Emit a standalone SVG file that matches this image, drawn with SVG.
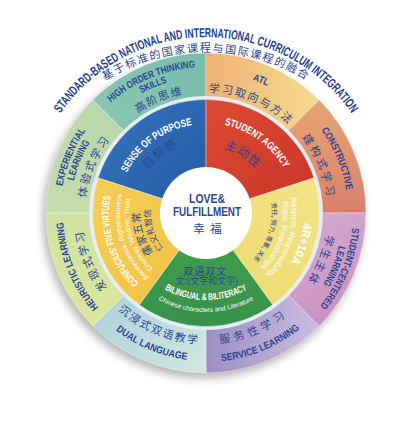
<svg xmlns="http://www.w3.org/2000/svg" width="415" height="426" viewBox="0 0 415 426">
<defs>
<style>
.en{font-family:"Liberation Sans",Arial,sans-serif;font-weight:bold;}
.rg{font-family:"Liberation Sans",Arial,sans-serif;}
.lbl{fill:#2b4694;font-size:10px;}
.zh{font-family:"Noto Sans CJK SC",sans-serif;fill:#2b4694;}
.w{fill:#ffffff;}
.m{text-anchor:middle;}
.sep{stroke:#ffffff;stroke-opacity:0.45;stroke-width:0.8;}
</style>
<filter id="sh" x="-20%" y="-20%" width="140%" height="140%"><feGaussianBlur stdDeviation="5"/></filter>
<linearGradient id="gHO" x1="0" y1="1" x2="1" y2="0"><stop offset="0" stop-color="#93cbb5"/><stop offset="1" stop-color="#78bcaa"/></linearGradient>
<linearGradient id="gATL" x1="0" y1="0" x2="1" y2="0"><stop offset="0" stop-color="#efb172"/><stop offset="1" stop-color="#f5dc8e"/></linearGradient>
<linearGradient id="gCON" x1="0" y1="0" x2="0" y2="1"><stop offset="0" stop-color="#e8a574"/><stop offset="1" stop-color="#d8806b"/></linearGradient>
<linearGradient id="gSC" x1="0" y1="0" x2="1" y2="1"><stop offset="0" stop-color="#dfb8d6"/><stop offset="1" stop-color="#c58cbd"/></linearGradient>
<linearGradient id="gSL" x1="0" y1="0" x2="1" y2="0"><stop offset="0" stop-color="#9a8fc4"/><stop offset="1" stop-color="#cdbde0"/></linearGradient>
<linearGradient id="gDL" x1="0" y1="0" x2="1" y2="1"><stop offset="0" stop-color="#9ec8d8"/><stop offset="1" stop-color="#d2e7de"/></linearGradient>
<linearGradient id="gHE" x1="0" y1="0" x2="0" y2="1"><stop offset="0" stop-color="#d0e2a2"/><stop offset="1" stop-color="#dbe79c"/></linearGradient>
<linearGradient id="gEX" x1="0" y1="1" x2="1" y2="0"><stop offset="0" stop-color="#c6ddab"/><stop offset="1" stop-color="#b3d3ad"/></linearGradient>
<linearGradient id="gB" x1="0" y1="0" x2="1" y2="1"><stop offset="0" stop-color="#3574bd"/><stop offset="1" stop-color="#245ba5"/></linearGradient>
<linearGradient id="gR" x1="0" y1="0" x2="1" y2="1"><stop offset="0" stop-color="#dc4a32"/><stop offset="1" stop-color="#c93528"/></linearGradient>
<linearGradient id="gY1" x1="1" y1="0" x2="0" y2="1"><stop offset="0" stop-color="#f4e488"/><stop offset="1" stop-color="#ecd86c"/></linearGradient>
<linearGradient id="gG" x1="0" y1="0" x2="0" y2="1"><stop offset="0" stop-color="#45a050"/><stop offset="1" stop-color="#37924a"/></linearGradient>
<linearGradient id="gY2" x1="0" y1="0" x2="1" y2="1"><stop offset="0" stop-color="#f5cd55"/><stop offset="1" stop-color="#f0c044"/></linearGradient>
<path id="te" d="M31.7,183.3 A177,177 0 0 1 380.3,183.3"/>
<path id="tz" d="M58.2,120.9 A193,193 0 0 1 353.8,120.9"/>
<path id="cw146" d="M-132.32,-61.70 A146,146 0 0 1 132.32,-61.70"/>
<path id="cw136" d="M-123.26,-57.47 A136,136 0 0 1 123.26,-57.47"/>
<path id="cw121" d="M-109.66,-51.13 A121,121 0 0 1 109.66,-51.13"/>
<path id="cw141" d="M-127.79,-59.59 A141,141 0 0 1 127.79,-59.59"/>
<path id="cw142" d="M-128.69,-60.01 A142,142 0 0 1 128.69,-60.01"/>
<path id="cw122" d="M-110.57,-51.56 A122,122 0 0 1 110.57,-51.56"/>
<path id="cw147" d="M-133.23,-62.12 A147,147 0 0 1 133.23,-62.12"/>
<path id="cw137" d="M-124.16,-57.90 A137,137 0 0 1 124.16,-57.90"/>
<path id="cw143" d="M-129.60,-60.43 A143,143 0 0 1 129.60,-60.43"/>
<path id="cw124" d="M-112.38,-52.40 A124,124 0 0 1 112.38,-52.40"/>
<path id="cw89" d="M-80.66,-37.61 A89,89 0 0 1 80.66,-37.61"/>
<path id="cw72" d="M-65.25,-30.43 A72,72 0 0 1 65.25,-30.43"/>
<path id="cw90" d="M-81.57,-38.03 A90,90 0 0 1 81.57,-38.03"/>
<path id="cw67" d="M-60.72,-28.31 A67,67 0 0 1 60.72,-28.31"/>
<path id="cw98" d="M-88.82,-41.41 A98,98 0 0 1 88.82,-41.41"/>
<path id="cw86" d="M-77.94,-36.34 A86,86 0 0 1 77.94,-36.34"/>
<path id="cw77" d="M-69.79,-32.54 A77,77 0 0 1 69.79,-32.54"/>
<path id="cw97" d="M-87.91,-40.99 A97,97 0 0 1 87.91,-40.99"/>
<path id="cw66" d="M-59.82,-27.89 A66,66 0 0 1 59.82,-27.89"/>
<path id="cw55" d="M-50.30,-23.45 A55.5,55.5 0 0 1 50.30,-23.45"/>
<path id="cc131" d="M-118.73,55.36 A131,131 0 0 0 118.73,55.36"/>
<path id="cc149" d="M-135.04,62.97 A149,149 0 0 0 135.04,62.97"/>
<path id="cc148" d="M-134.13,62.54 A148,148 0 0 0 134.13,62.54"/>
<path id="cc87" d="M-78.85,36.77 A87,87 0 0 0 78.85,36.77"/>
<path id="cc99" d="M-89.72,41.84 A99,99 0 0 0 89.72,41.84"/>
</defs>

<rect width="415" height="426" fill="#ffffff"/>
<circle cx="203" cy="218" r="160" fill="#000" opacity="0.3" filter="url(#sh)"/>

<g id="title">
<text class="en m" font-size="13" fill="#23408e"><textPath href="#te" startOffset="50%" textLength="342" lengthAdjust="spacingAndGlyphs">STANDARD-BASED NATIONAL AND INTERNATIONAL CURRICULUM INTEGRATION</textPath></text>
<text class="zh m" font-size="11" letter-spacing="1.5" fill="#23408e"><textPath href="#tz" startOffset="50%">基于标准的国家课程与国际课程的融合</textPath></text>
</g>

<g id="outer-ring">
<g id="high-order-thinking">
<path class="sep" fill="url(#gHO)" d="M206,213 L92.86,99.86 A160,160 0 0 1 206,53 Z"/>
<g transform="translate(206 213) rotate(-22.5)">
<text class="en lbl m"><textPath href="#cw146" startOffset="50%" textLength="93" lengthAdjust="spacingAndGlyphs">HIGH ORDER THINKING</textPath></text>
<text class="en lbl m"><textPath href="#cw136" startOffset="50%" textLength="28" lengthAdjust="spacingAndGlyphs">SKILLS</textPath></text>
<text class="zh m" font-size="11" letter-spacing="1.5"><textPath href="#cw121" startOffset="50%">高阶思维</textPath></text>
</g>
</g>
<g id="atl">
<path class="sep" fill="url(#gATL)" d="M206,213 L206,53 A160,160 0 0 1 319.14,99.86 Z"/>
<g transform="translate(206 213) rotate(22.5)">
<text class="en lbl m"><textPath href="#cw141" startOffset="50%" textLength="16" lengthAdjust="spacingAndGlyphs">ATL</textPath></text>
<text class="zh m" font-size="11" letter-spacing="1.8"><textPath href="#cw121" startOffset="50%">学习取向与方法</textPath></text>
</g>
</g>
<g id="constructive">
<path class="sep" fill="url(#gCON)" d="M206,213 L319.14,99.86 A160,160 0 0 1 366,213 Z"/>
<g transform="translate(206 213) rotate(67.5)">
<text class="en lbl m"><textPath href="#cw142" startOffset="50%" textLength="66" lengthAdjust="spacingAndGlyphs">CONSTRUCTIVE</textPath></text>
<text class="zh m" font-size="11" letter-spacing="2.5"><textPath href="#cw122" startOffset="50%">建构式学习</textPath></text>
</g>
</g>
<g id="student-centered">
<path class="sep" fill="url(#gSC)" d="M206,213 L366,213 A160,160 0 0 1 319.14,326.14 Z"/>
<g transform="translate(206 213) rotate(112.5)">
<text class="en lbl m"><textPath href="#cw147" startOffset="50%" textLength="86" lengthAdjust="spacingAndGlyphs">STUDENT-CENTERED</textPath></text>
<text class="en lbl m"><textPath href="#cw137" startOffset="50%" textLength="42" lengthAdjust="spacingAndGlyphs">LEARNING</textPath></text>
<text class="zh m" font-size="11" letter-spacing="2"><textPath href="#cw122" startOffset="50%">学生主体</textPath></text>
</g>
</g>
<g id="service-learning">
<path class="sep" fill="url(#gSL)" d="M206,213 L319.14,326.14 A160,160 0 0 1 206,373 Z"/>
<g transform="translate(206 213) rotate(-22.5)">
<text class="zh m" font-size="11" letter-spacing="4"><textPath href="#cc131" startOffset="50%">服务性学习</textPath></text>
<text class="en lbl m"><textPath href="#cc149" startOffset="50%" textLength="86" lengthAdjust="spacingAndGlyphs">SERVICE LEARNING</textPath></text>
</g>
</g>
<g id="dual-language">
<path class="sep" fill="url(#gDL)" d="M206,213 L206,373 A160,160 0 0 1 92.86,326.14 Z"/>
<g transform="translate(206 213) rotate(22.5)">
<text class="zh m" font-size="11" letter-spacing="1.8"><textPath href="#cc131" startOffset="50%">沉浸式双语教学</textPath></text>
<text class="en lbl m"><textPath href="#cc148" startOffset="50%" textLength="78" lengthAdjust="spacingAndGlyphs">DUAL LANGUAGE</textPath></text>
</g>
</g>
<g id="heuristic-learning">
<path class="sep" fill="url(#gHE)" d="M206,213 L92.86,326.14 A160,160 0 0 1 46,213 Z"/>
<g transform="translate(206 213) rotate(-112.5)">
<text class="en lbl m"><textPath href="#cw143" startOffset="50%" textLength="94" lengthAdjust="spacingAndGlyphs">HEURISTIC LEARNING</textPath></text>
<text class="zh m" font-size="11" letter-spacing="1.8"><textPath href="#cw124" startOffset="50%">发现式学习</textPath></text>
</g>
</g>
<g id="experiential-learning">
<path class="sep" fill="url(#gEX)" d="M206,213 L46,213 A160,160 0 0 1 92.86,99.86 Z"/>
<g transform="translate(206 213) rotate(-67.5)">
<text class="en lbl m"><textPath href="#cw146" startOffset="50%" textLength="61" lengthAdjust="spacingAndGlyphs">EXPERIENTIAL</textPath></text>
<text class="en lbl m"><textPath href="#cw136" startOffset="50%" textLength="42" lengthAdjust="spacingAndGlyphs">LEARNING</textPath></text>
<text class="zh m" font-size="11" letter-spacing="2"><textPath href="#cw121" startOffset="50%">体验式学习</textPath></text>
</g>
</g>
</g>

<circle cx="206" cy="213" r="117" fill="#e6eef5"/>

<g id="inner-ring">
<g id="sense-of-purpose">
<path class="sep" fill="url(#gB)" d="M206,213 L98.05,177.93 A113.5,113.5 0 0 1 206,99.5 Z"/>
<g transform="translate(206 213) rotate(-36)">
<text class="en w m" font-size="10.5"><textPath href="#cw89" startOffset="50%" textLength="84" lengthAdjust="spacingAndGlyphs">SENSE OF PURPOSE</textPath></text>
</g>
<g transform="translate(206 213) rotate(-38)">
<text class="zh m" font-size="12" letter-spacing="1" fill="#1f3c84"><textPath href="#cw72" startOffset="50%">目标感</textPath></text>
</g>
</g>
<g id="student-agency">
<path class="sep" fill="url(#gR)" d="M206,213 L206,99.5 A113.5,113.5 0 0 1 313.95,177.93 Z"/>
<g transform="translate(206 213) rotate(36)">
<text class="en w m" font-size="10.5"><textPath href="#cw90" startOffset="50%" textLength="76" lengthAdjust="spacingAndGlyphs">STUDENT AGENCY</textPath></text>
</g>
<g transform="translate(206 213) rotate(32)">
<text class="zh m" font-size="12" letter-spacing="1" fill="#1f3c84"><textPath href="#cw67" startOffset="50%">主动性</textPath></text>
</g>
</g>
<g id="four-r-ten-a">
<path class="sep" fill="url(#gY1)" d="M206,213 L313.95,177.93 A113.5,113.5 0 0 1 272.71,304.82 Z"/>
<g transform="translate(206 213) rotate(108)">
<text class="en w m" font-size="12"><textPath href="#cw98" startOffset="50%" textLength="42" lengthAdjust="spacingAndGlyphs">4R+10A</textPath></text>
<text class="rg w m" font-size="8"><textPath href="#cw86" startOffset="50%">Respect, Responsibility,</textPath></text>
<text class="rg w m" font-size="8"><textPath href="#cw77" startOffset="50%">Rigor, Relationships</textPath></text>
<text class="zh m" font-size="6.5"><textPath href="#cw66" startOffset="50%">责任, 努力, 尊重, 关系</textPath></text>
</g>
</g>
<g id="bilingual">
<path class="sep" fill="url(#gG)" d="M206,213 L272.71,304.82 A113.5,113.5 0 0 1 139.29,304.82 Z"/>
<text class="zh m" x="205" y="274.5" font-size="10.5" letter-spacing="0.5">双语双文</text>
<text class="zh m" x="207" y="284" font-size="9">文:(文字和文学)</text>
<text class="en w m" font-size="9.5" transform="translate(206 213)"><textPath href="#cc87" startOffset="50%" textLength="86" lengthAdjust="spacingAndGlyphs">BILINGUAL &amp; BILITERACY</textPath></text>
<text class="rg w m" font-size="6.6" transform="translate(206 213)"><textPath href="#cc99" startOffset="50%">Chinese characters and Literature</textPath></text>
</g>
<g id="confucius">
<path class="sep" fill="url(#gY2)" d="M206,213 L139.29,304.82 A113.5,113.5 0 0 1 98.05,177.93 Z"/>
<g transform="translate(206 213) rotate(-108)">
<text class="en w m" font-size="10"><textPath href="#cw97" startOffset="50%" textLength="95" lengthAdjust="spacingAndGlyphs">CONFUCIUS' FIVE VIRTUES</textPath></text>
<text class="rg w m" font-size="7"><textPath href="#cw86" startOffset="50%">Benevolence, Righteousness</textPath></text>
<text class="rg w m" font-size="7"><textPath href="#cw77" startOffset="50%">Courtesy, Wisdom, Trust</textPath></text>
<text class="zh m" font-size="10.5" letter-spacing="0.5"><textPath href="#cw66" startOffset="50%">儒家五常</textPath></text>
<text class="zh m" font-size="8.5"><textPath href="#cw55" startOffset="50%">仁义礼智信</textPath></text>
</g>
</g>
</g>

<g id="center">
<circle cx="206" cy="213" r="46" fill="#ffffff"/>
<text class="en m" x="207" y="203" font-size="13" fill="#2b4694" textLength="36" lengthAdjust="spacingAndGlyphs">LOVE&amp;</text>
<text class="en m" x="207" y="216" font-size="13" fill="#2b4694" textLength="68" lengthAdjust="spacingAndGlyphs">FULFILLMENT</text>
<text class="zh m" x="199" y="233" font-size="11.5" fill="#d32f2f">幸</text>
<text class="zh m" x="216" y="233" font-size="11.5" fill="#d32f2f">福</text>
</g>

<g id="connectors"/>
</svg>
